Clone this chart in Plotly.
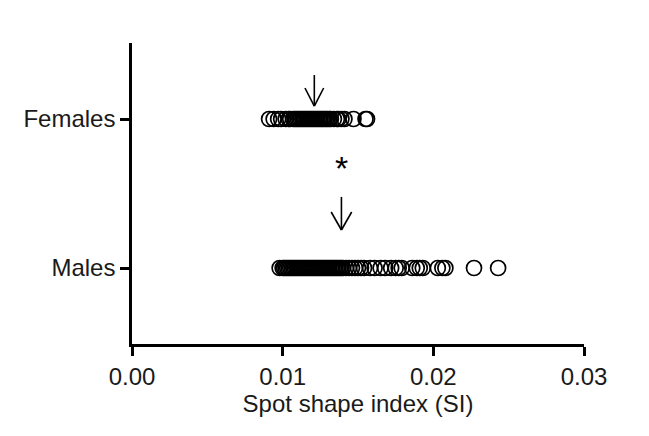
import plotly.graph_objects as go

categories = ["Males", "Females"]
cat_pos = [1, 2]

females_si = [0.0091, 0.0094, 0.0097, 0.0099, 0.0102, 0.0104, 0.0105, 0.0107, 0.0108, 0.0109,
              0.0110, 0.0111, 0.0112, 0.0113, 0.0114, 0.0115, 0.0116, 0.0117, 0.0118, 0.0119,
              0.0120, 0.0121, 0.0122, 0.0123, 0.0124, 0.0125, 0.0126, 0.0127, 0.0128, 0.0129,
              0.0130, 0.0131, 0.0132, 0.0134, 0.0136, 0.0137, 0.0139, 0.0141, 0.0147, 0.0155, 0.0156]
males_si = [0.0098, 0.0100, 0.0101, 0.0102, 0.0103, 0.0104, 0.0105, 0.0106, 0.0107, 0.0108,
            0.0109, 0.0110, 0.0111, 0.0112, 0.0113, 0.0114, 0.0115, 0.0116, 0.0117, 0.0118,
            0.0119, 0.0120, 0.0121, 0.0122, 0.0123, 0.0124, 0.0125, 0.0126, 0.0127, 0.0128,
            0.0129, 0.0130, 0.0131, 0.0132, 0.0133, 0.0134, 0.0135, 0.0136, 0.0137, 0.0138,
            0.0139, 0.0140, 0.0142, 0.0144, 0.0146, 0.0148, 0.0150, 0.0152, 0.0154, 0.0158,
            0.0161, 0.0165, 0.0168, 0.0172, 0.0175, 0.0177, 0.0179, 0.0186, 0.0189, 0.0191,
            0.0193, 0.0203, 0.0206, 0.0208, 0.0227, 0.0243]

x_ticks = [0.00, 0.01, 0.02, 0.03]
x_tick_labels = ["0.00", "0.01", "0.02", "0.03"]
x_title = "Spot shape index (SI)"

# arrow markers for group means (as drawn in the figure)
f_mean = 0.0121
m_mean = 0.0139

FONT = "Liberation Sans, Arial, sans-serif"
TXT = "#1a1a1a"

fig = go.Figure()
for vals, pos in [(males_si, 1), (females_si, 2)]:
    fig.add_trace(go.Scatter(
        x=vals, y=[pos] * len(vals), mode="markers",
        marker=dict(symbol="circle-open", size=15, color="black", line=dict(width=1.7, color="black")),
        showlegend=False, hoverinfo="x"))

def arrow(xc, y_tip, y_top, y_head, half_w):
    lw = 1.6
    return [
        dict(type="line", xref="x", yref="y", x0=xc, x1=xc, y0=y_top, y1=y_tip, line=dict(color="black", width=lw)),
        dict(type="line", xref="x", yref="y", x0=xc - half_w, x1=xc, y0=y_head, y1=y_tip, line=dict(color="black", width=lw)),
        dict(type="line", xref="x", yref="y", x0=xc + half_w, x1=xc, y0=y_head, y1=y_tip, line=dict(color="black", width=lw)),
    ]
shapes = arrow(f_mean, 2.087, 2.295, 2.208, 0.00062) + arrow(m_mean, 1.255, 1.477, 1.376, 0.00068)

fig.update_layout(
    width=649, height=436,
    margin=dict(l=132, r=65, t=43, b=92),
    paper_bgcolor="white", plot_bgcolor="white",
    font=dict(family=FONT, size=24, color=TXT),
    shapes=shapes,
    annotations=[dict(x=m_mean, y=1.705, xref="x", yref="y", text="*", showarrow=False,
                      font=dict(size=34, family=FONT, color="black"), yshift=-5)],
    xaxis=dict(range=[0, 0.03], tickvals=x_ticks, ticktext=x_tick_labels,
               showline=True, linecolor="black", linewidth=2.5, ticks="outside",
               ticklen=9, tickwidth=2.5, tickcolor="black", showgrid=False, zeroline=False,
               title=dict(text=x_title, font=dict(size=24), standoff=6),
               tickfont=dict(size=24)),
    yaxis=dict(range=[0.49, 2.51], tickvals=cat_pos, ticktext=categories,
               showline=True, linecolor="black", linewidth=2.5, ticks="outside",
               ticklen=9, tickwidth=2.5, tickcolor="black", showgrid=False, zeroline=False,
               tickfont=dict(size=24)),
)
fig.write_html("out.html")
